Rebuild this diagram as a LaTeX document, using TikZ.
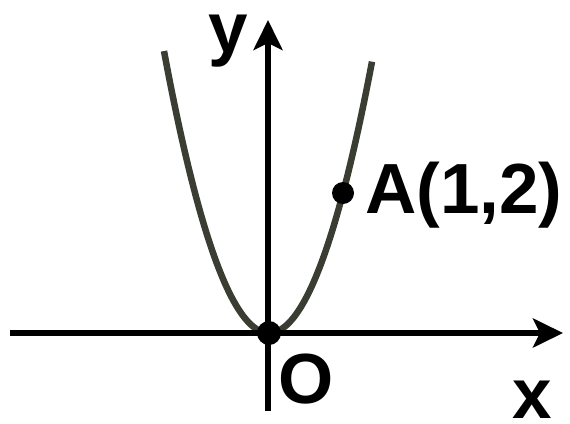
\documentclass[tikz,border=0pt]{standalone}
\usepackage{fontspec}
\setmainfont{Liberation Sans}
\usetikzlibrary{arrows.meta}
\definecolor{curvecol}{RGB}{58,61,50}
\tikzset{
  axis/.style={line width=5.5pt,-{Stealth[length=30pt,width=29pt,inset=7pt]}},
  curve/.style={line width=6.5pt,curvecol},
  dot/.style={circle,fill=black,inner sep=0pt,minimum size=#1},
  lbl/.style={font=\fontsize{71}{71}\selectfont\bfseries,inner sep=0pt}
}
\begin{document}
\begin{tikzpicture}[x=1pt,y=-1pt]
\useasboundingbox (0,0) rectangle (570,423);
\coordinate (xs) at (10,333);
\coordinate (xe) at (563,333);
\coordinate (ys) at (268,411);
\coordinate (ye) at (268,20);
\draw[curve,domain=-105:103,samples=120] plot ({269+\x},{333-0.02557*\x*\x});
\draw[axis] (xs) -- (xe);
\draw[axis] (ys) -- (ye);
\node[dot=24pt] (O) at (269,333) {};
\node[dot=22pt] (A) at (343,193) {};
\node[lbl,anchor=base] (ylab) at (228,52) {y};
\node[lbl,anchor=base] (xlab) at (532,418) {x};
\node[lbl,anchor=base] (olab) at (306,403) {O};
\node[lbl,anchor=base west] (alab) at (365,213) {A(1,2)};
\end{tikzpicture}
\end{document}
